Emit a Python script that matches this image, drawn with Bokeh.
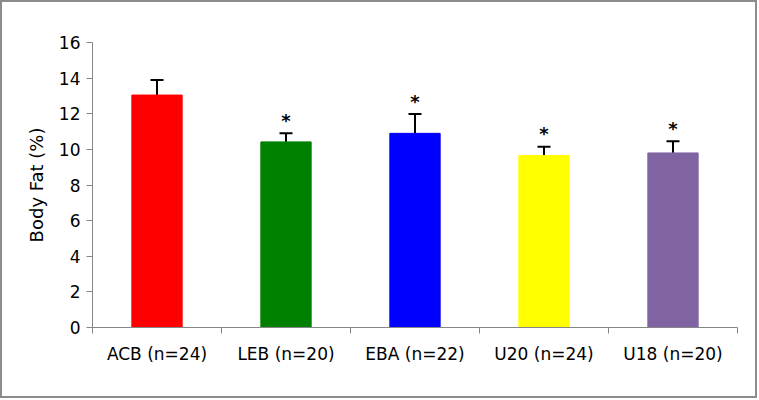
from bokeh.plotting import figure
from bokeh.models import (ColumnDataSource, FixedTicker, Whisker, TeeHead, Range1d)
from bokeh.core.properties import value
from bokeh.embed import file_html
from bokeh.resources import INLINE

groups = ["ACB (n=24)", "LEB (n=20)", "EBA (n=22)", "U20 (n=24)", "U18 (n=20)"]
body_fat = [13.05, 10.42, 10.9, 9.65, 9.8]
sd_err = [0.85, 0.48, 1.08, 0.5, 0.65]
sig = ["", "*", "*", "*", "*"]
colors = ["#FF0000", "#008000", "#0000FF", "#FFFF00", "#8064A2"]
y_ticks = [0, 2, 4, 6, 8, 10, 12, 14, 16]

xs = [i + 0.5 for i in range(len(groups))]
src = ColumnDataSource(dict(
    x=xs, top=body_fat, upper=[v + e for v, e in zip(body_fat, sd_err)],
    sig=sig, color=colors,
))

FONT = "DejaVu Sans"

p = figure(width=757, height=398, output_backend="svg", toolbar_location=None,
           x_range=Range1d(0, len(groups)), y_range=Range1d(0, 16),
           min_border_left=90, min_border_right=22, min_border_top=40, min_border_bottom=73)
p.outline_line_color = None
p.xgrid.visible = False
p.ygrid.visible = False
p.styles = {"border": "2px solid #8c8c8c"}

p.vbar(x="x", top="top", bottom=0, width=0.39, color="color", source=src)

w = Whisker(base="x", upper="upper", lower="top", source=src,
            line_color="black", line_width=2,
            upper_head=TeeHead(size=13, line_color="black", line_width=2),
            lower_head=None)
p.add_layout(w)

p.text(x="x", y="upper", text="sig", source=src, text_align="center",
       text_baseline="alphabetic", y_offset=-13, text_font=value(FONT),
       text_font_size="18px", text_font_style="bold", text_color="black")

# y axis
p.yaxis.ticker = FixedTicker(ticks=y_ticks, minor_ticks=[])
p.yaxis.axis_label = "Body Fat (%)"
p.yaxis.axis_label_text_font = FONT
p.yaxis.axis_label_text_font_size = "18px"
p.yaxis.axis_label_text_font_style = "normal"
p.yaxis.axis_label_text_color = "black"
p.yaxis.axis_label_standoff = 9
p.yaxis.major_label_text_font = FONT
p.yaxis.major_label_text_font_size = "17px"
p.yaxis.major_label_text_color = "black"
p.yaxis.major_tick_out = 6
p.yaxis.major_tick_in = 0
p.yaxis.minor_tick_out = 0
p.yaxis.minor_tick_in = 0
p.yaxis.axis_line_color = "#868686"
p.yaxis.major_tick_line_color = "#868686"
p.yaxis.major_label_standoff = 6

# x axis
p.xaxis.ticker = FixedTicker(ticks=xs, minor_ticks=list(range(len(groups) + 1)))
p.xaxis.major_label_overrides = {x: g for x, g in zip(xs, groups)}
p.xaxis.major_label_text_font = FONT
p.xaxis.major_label_text_font_size = "17px"
p.xaxis.major_label_text_color = "black"
p.xaxis.major_tick_out = 0
p.xaxis.major_tick_in = 0
p.xaxis.minor_tick_out = 6
p.xaxis.minor_tick_in = 0
p.xaxis.minor_tick_line_color = "#868686"
p.xaxis.axis_line_color = "#868686"
p.xaxis.major_label_standoff = 10

open("out.html", "w").write(file_html(p, INLINE))
